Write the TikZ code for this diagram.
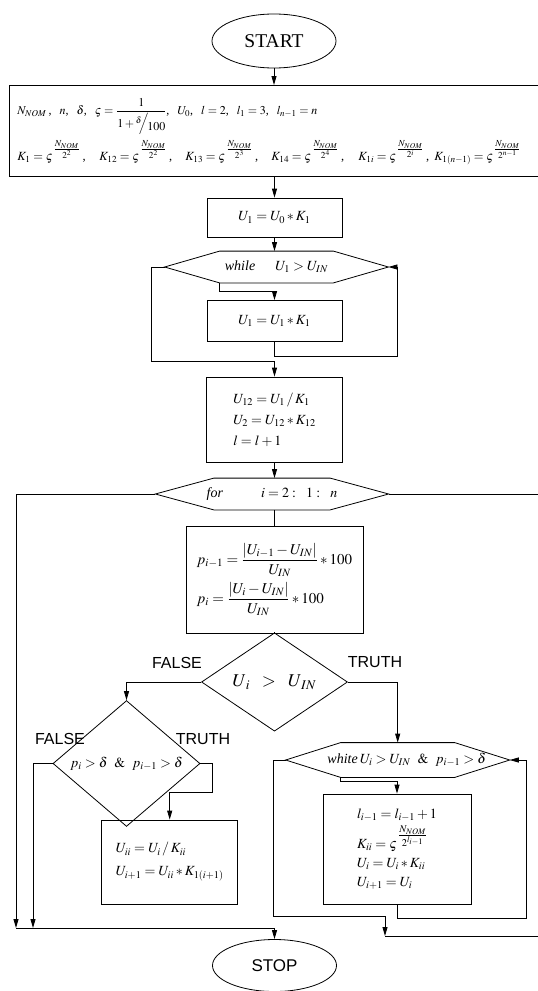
\documentclass[tikz,border=0pt]{standalone}
\usepackage{amsmath}
\usepackage{mathptmx}
\usepackage[no-math]{fontspec}
\setmainfont{Liberation Serif}
\newfontfamily\arialfont{Liberation Sans}
\usepackage{tikz}
\usetikzlibrary{positioning}
\usetikzlibrary{shapes,arrows.meta}
\tikzstyle{block} = [rectangle, draw, inner sep=0pt, align=left,
    font=\fontsize{14}{21}\selectfont]
\tikzstyle{decision} = [diamond, draw, inner sep=0pt]
\tikzstyle{terminal} = [ellipse, draw, minimum width=124, minimum height=54]
\tikzstyle{cycle} = [rectangle, inner sep=0pt, font=\fontsize{14}{16}\selectfont]
\tikzstyle{tag} = [font=\arialfont\fontsize{16}{18}\selectfont]
\tikzstyle{line} = [draw, -{Triangle[length=9pt,width=5pt]}]
% outline of a loop header
\newcommand{\hexline}[2]{\draw (#1.west) -- ([xshift=#2]#1.north west)
    -- ([xshift=-#2]#1.north east) -- (#1.east) -- ([xshift=-#2]#1.south east)
    -- ([xshift=#2]#1.south west) -- cycle;}
\newcommand{\expo}[1]{\varsigma^{\,\raisebox{3pt}{$\tfrac{N_{NOM}}{#1}$}}}
\newcommand{\kterm}[3]{\makebox[#1][l]{$K_{#2}=\expo{#3}$\,,}}

\begin{document}
\begin{tikzpicture}[x=1pt, y=-1pt, line width=0.8pt]
        \useasboundingbox (0,0) rectangle (538,991);
        % nodes
        \node [terminal, font=\fontsize{19.5}{22}\selectfont] (start) at (274,41) {START};
        \node [block, anchor=north west, text width=528, minimum height=91, inner xsep=8,
            font=\fontsize{12}{14}\selectfont] (data) at (9,85)
            {\rule{0pt}{18pt}$N_{NOM}$\,,\ \ $n$,\ \ $\delta$,\ \ $\varsigma=\dfrac{1}{1+\raisebox{4pt}{$\scriptstyle\delta$}\!\!\Big/\!\raisebox{-3pt}{$100$}}$,\ \ $U_0$,\ \ $l=2$,\ \ $l_1=3$,\ \ $l_{n-1}=n$\\[5pt]
             \fontsize{12.5}{15}\selectfont
             \kterm{82pt}{1}{2^2}\kterm{86pt}{12}{2^2}\kterm{86pt}{13}{2^3}\kterm{87pt}{14}{2^4}\kterm{76pt}{1i}{2^i}$K_{1(n-1)}=\expo{2^{n-1}}$};
        \node [block, minimum width=135, minimum height=39, font=\fontsize{14}{18}\selectfont] (init) at (274.5,217.5) {$U_1=U_0*K_1$};
        \node [cycle, minimum width=223, minimum height=31] (while) at (276.5,267) {\textit{while}\hspace{20pt}$U_1>U_{IN}$};
        \node [block, minimum width=135, minimum height=41, font=\fontsize{14}{18}\selectfont] (step) at (274.5,321) {$U_1=U_1*K_1$};
        \node [block, minimum width=136, minimum height=85] (first) at (274.5,419.5)
            {$U_{12}=U_1\,/\,K_1$\\ $U_2=U_{12}*K_{12}$\\ $l=l+1$};
        \node [cycle, minimum width=232.5, minimum height=31] (for) at (272,494) {\textit{for}\hspace{38pt}$i=2:\ \ 1:\ \ n$};
        \node [block, minimum width=177, minimum height=107, font=\fontsize{15}{18}\selectfont] (dev) at (274.5,579.5)
            {$p_{i-1}=\dfrac{\left|U_{i-1}-U_{IN}\right|}{U_{IN}}*100$\\[4pt]
             $p_i=\dfrac{\left|U_i-U_{IN}\right|}{U_{IN}}*100$};
        \node [decision, minimum width=146, minimum height=74, font=\fontsize{18}{20}\selectfont] (test) at (274.5,682) {$U_{\,i}\;\;>\;\;U_{\,IN}$};
        \node [decision, minimum width=147, minimum height=73, font=\fontsize{14}{16}\selectfont] (tol) at (126.5,763.5) {$p_i>\delta\ \ \&\ \ p_{i-1}>\delta$};
        \node [block, minimum width=136, minimum height=84] (back) at (169.7,862)
            {$U_{ii}=U_i\,/\,K_{ii}$\\[2pt] $U_{i+1}=U_{ii}*K_{1(i+1)}$};
        \node [cycle, minimum width=223.3, minimum height=34] (wloop) at (397.7,760) {\hspace{18pt}\textit{white}\,$U_i>U_{IN}\ \ \&\ \ p_{i-1}>\delta$};
        \node [block, minimum width=148, minimum height=110, font=\fontsize{14}{19}\selectfont] (body) at (397,849)
            {$l_{i-1}=l_{i-1}+1$\\[3pt] $K_{ii}=\expo{2^{l_{i-1}}}$\\ $U_i=U_i*K_{ii}$\\ $U_{i+1}=U_i$};
        \node [terminal, minimum height=52, font=\arialfont\fontsize{17}{20}\selectfont] (stop) at (274.5,965.5) {STOP};
        \node [tag] (no1) at (177,663) {FALSE};
        \node [tag] (yes1) at (375,662) {TRUTH};
        \node [tag] (no2) at (60,739) {FALSE};
        \node [tag] (yes2) at (203,739) {TRUTH};
        \hexline{while}{55}
        \hexline{for}{58.5}
        \hexline{wloop}{55}
        \coordinate (c1) at (151,361);
        \coordinate (c2) at (385,936);
        \coordinate (c3) at (16,928);
        \coordinate (c4) at (33,928);
        % edges
        \path [line] (start) -- (start.south |- data.north);
        \path [line] (init.north |- data.south) -- (init);
        \path [line] (init) -- (init.south |- while.north);
        \path [line] ([xshift=55]while.south west) -- ++(0,8) -| (step.north);
        \path [line] (step.south) -- ++(0,14) -| ([xshift=9]while.east) -- (while.east);
        \path [line] (while.west) -| (c1) -| (first.north);
        \path [line] (first) -- (first.south |- for.north);
        \draw (dev.north |- for.south) -- (dev.north);
        \draw (dev.south) -- (test.north);
        \path [line] (test.west) -| (tol.north);
        \path [line] (test.east) -| (wloop.north);
        \path [line] ([xshift=55]wloop.south west) -- ++(0,4) -| (body.north);
        \path [line] (body.south) -- ++(0,14) -| ([xshift=16.7]wloop.east) -- (wloop.east);
        \path [line] (wloop.west) -- ++(-12,0) |- ([yshift=20]c2) -- (c2);
        \draw (c2) -- (548,936) |- (for.east);
        \path [line] (tol.east) -- ++(12,0) -- ++(0,29) -| (back.north);
        \path [line] (for.west) -| (c3);
        \path [line] (tol.west) -| (c4);
        \path [line] (c3) -| (stop.north);
    \end{tikzpicture}
\end{document}
